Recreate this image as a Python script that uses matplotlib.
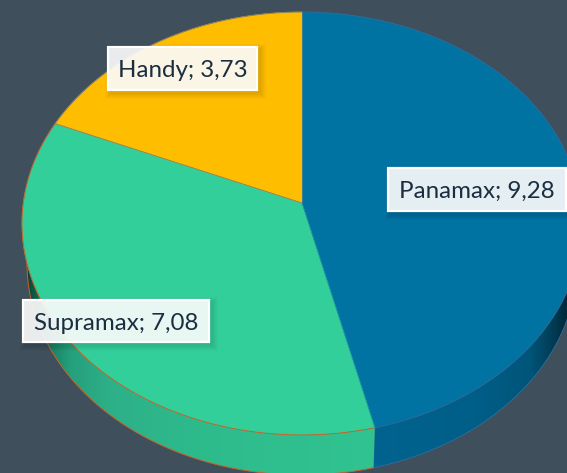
import matplotlib
matplotlib.use("Agg")
import matplotlib.pyplot as plt
import numpy as np
from matplotlib.colors import LinearSegmentedColormap
from matplotlib.patches import Polygon, Rectangle

# chart data
categories = ["Panamax", "Handy", "Supramax"]
values = [9.28, 3.73, 7.08]
colors = ["#0073A3", "#FFBD00", "#33CF9A"]
edge_colors = ["#2F6A98", "#8A8066", "#C8642A"]
labels = ["Panamax; 9,28", "Handy; 3,73", "Supramax; 7,08"]

# label boxes: x0, y0, x1, y1 in pixels
boxes = [(388, 168, 566, 211), (108, 47, 257, 90), (23, 300, 209, 342)]

BG = "#3F4F5C"
CX, CY = 302, 203
S, C, K = 278.7, 209.5, 0.0969  # perspective of the pie top
DEPTH = 40
S_LOW = 273.7


def project(theta, s=S, dy=0):
    # theta clockwise from the top of the pie
    x = np.sin(theta)
    y = np.cos(theta)
    d = 1 + K * y
    return np.column_stack((CX + s * x / d, CY + dy - C * y / d))


fig = plt.figure(figsize=(5.67, 4.73), dpi=100, facecolor=BG)
ax = fig.add_axes([0, 0, 1, 1])

# slice angles come from the values, clockwise: Panamax from 12 o'clock,
# then Supramax, then Handy
order = [0, 2, 1]
fracs = np.array([values[i] for i in order]) / sum(values)
ends = np.cumsum(fracs) * 2 * np.pi
starts = np.concatenate(([0], ends[:-1]))

# colour stops of the side wall by x position
blue_x = [373, 470, 530, 555, 567]
blue_c = ["#00638F", "#005F88", "#00557A", "#023A52", "#02283A"]
green_x = [22, 40, 70, 110, 200, 375]
green_c = ["#0A2E28", "#137058", "#25A07C", "#2DB088", "#2EBB8C", "#31C392"]

# side wall: Panamax and Supramax are the visible ones
for idx, xs, cs in [(0, blue_x, blue_c), (1, green_x, green_c)]:
    th = np.linspace(starts[idx], ends[idx], 300)
    top = project(th)
    low = project(th, S_LOW, DEPTH)
    wall = Polygon(np.vstack((top, low[::-1])), closed=True, fc="none", ec="none", transform=ax.transData)
    ax.add_patch(wall)
    span = xs[-1] - xs[0]
    cmap = LinearSegmentedColormap.from_list(
        "wall", [((x - xs[0]) / span, c) for x, c in zip(xs, cs)]
    )
    grad = np.linspace(0, 1, 256).reshape(1, -1)
    im = ax.imshow(
        grad, cmap=cmap, extent=(xs[0], xs[-1], 480, 0), aspect="auto", zorder=1, interpolation="bilinear"
    )
    im.set_clip_path(wall)
    ax.plot(low[:, 0], low[:, 1], color=edge_colors[order[idx]], lw=0.7, zorder=2)

ax.set_xlim(0, 567)
ax.set_ylim(473, 0)
ax.axis("off")

# top of the pie, fills first and then the outlines
for idx, cat_i in enumerate(order):
    th = np.linspace(starts[idx], ends[idx], 300)
    arc = project(th)
    pts = np.vstack(([CX, CY], arc))
    ax.add_patch(Polygon(pts, closed=True, fc=colors[cat_i], ec=colors[cat_i], lw=0.3, zorder=3))
    ax.plot(arc[:, 0], arc[:, 1], color=edge_colors[cat_i], lw=0.7, zorder=4)

# seams between the slices
seam_colors = ["#1F8FA0", "#8A8066", "#3C7E93"]
for idx in range(3):
    p = project(np.array([ends[idx]]))[0]
    ax.plot([CX, p[0]], [CY, p[1]], color=seam_colors[idx], lw=0.6, zorder=4)

# labels
for k, text in enumerate(labels):
    x0, y0, x1, y1 = boxes[k]
    # soft shadow
    for grow in np.arange(6, 0, -1):
        ax.add_patch(
            Rectangle(
                (x0 + 3 - grow, y0 + 3 - grow),
                x1 - x0 + 2 * grow,
                y1 - y0 + 2 * grow,
                fc="black",
                ec="none",
                alpha=0.02,
                zorder=5,
            )
        )
    ax.add_patch(
        Rectangle((x0, y0), x1 - x0, y1 - y0, fc="white", ec="none", alpha=0.9, zorder=6)
    )
    ax.add_patch(
        Rectangle((x0, y0), x1 - x0, y1 - y0, fc="none", ec="white", lw=1.6, zorder=7)
    )
    ax.text(
        (x0 + x1) / 2,
        (y0 + y1) / 2 + 2,
        text,
        ha="center",
        va="center",
        family="Lato",
        fontsize=17.4,
        color="#1A2E40",
        zorder=8,
    )

fig.savefig("out.png", dpi=100, facecolor=BG)
